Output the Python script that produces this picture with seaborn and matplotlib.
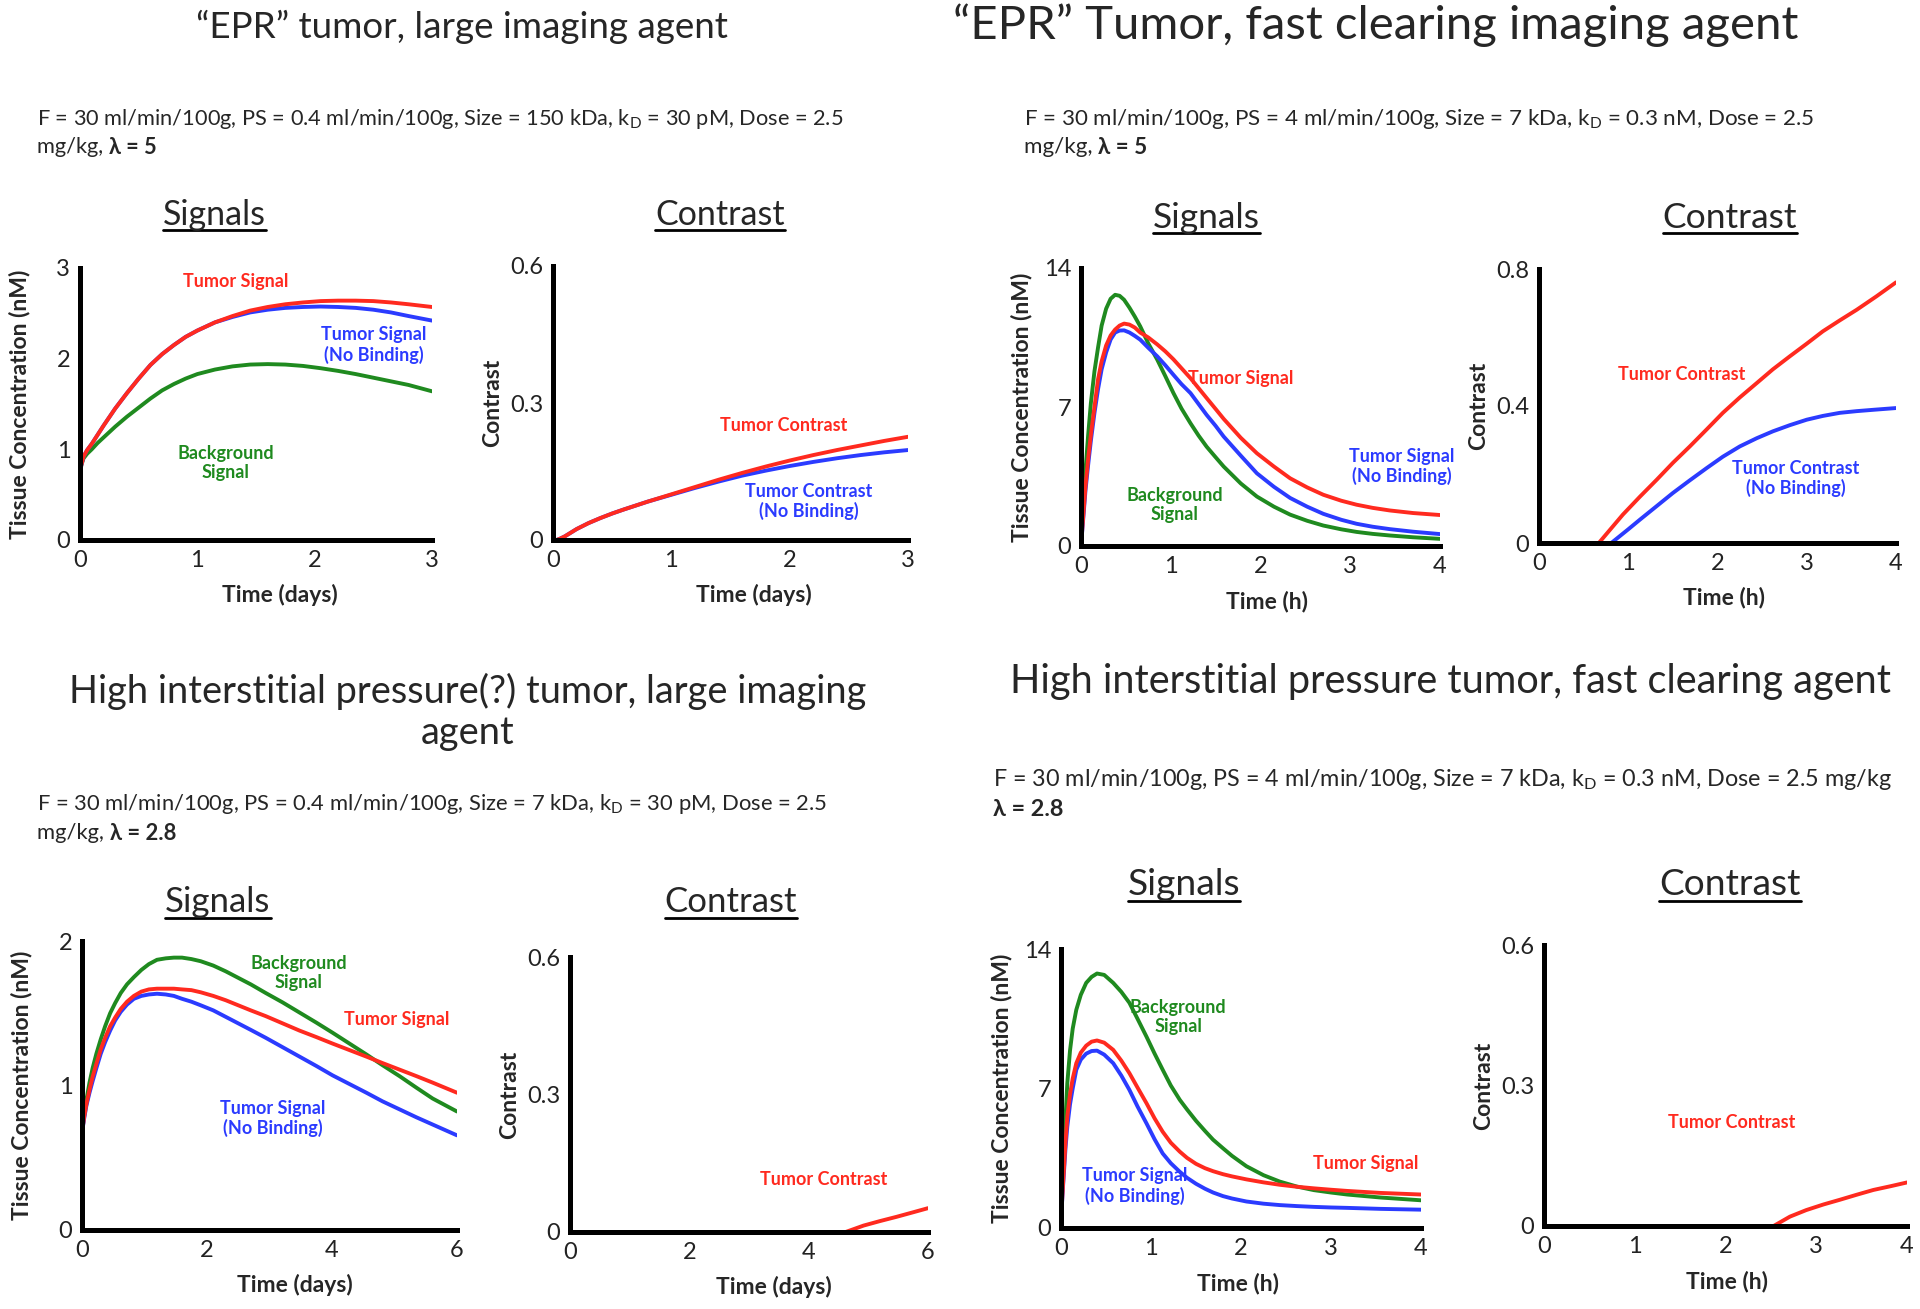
import numpy as np
import pandas as pd
import seaborn as sns
import matplotlib
matplotlib.use("Agg")
import matplotlib.pyplot as plt
from matplotlib.lines import Line2D

# 스타일 설정
sns.set_theme(style="white")
plt.rcParams["font.family"] = ["Lato", "DejaVu Sans"]

W, H = 1920, 1309
RED, BLUE, GREEN = "#ff2a1f", "#2b3bff", "#1f8a1f"
PALETTE = {"tumor": RED, "nobind": BLUE, "bg": GREEN}

# ---- 데이터 ----
# 1: EPR / large agent, signals (days)
s1_t = [0, 0.01, 0.03, 0.06, 0.1, 0.15, 0.2, 0.3, 0.4, 0.5, 0.6, 0.7, 0.8, 0.9, 1.0, 1.15, 1.3, 1.45,
        1.6, 1.75, 1.9, 2.05, 2.2, 2.35, 2.5, 2.65, 2.8, 3.0]
s1_tumor = [0.66, 0.82, 0.92, 0.99, 1.06, 1.16, 1.26, 1.45, 1.62, 1.78, 1.93, 2.05, 2.15, 2.24, 2.31, 2.40,
            2.47, 2.53, 2.57, 2.60, 2.62, 2.635, 2.64, 2.64, 2.635, 2.62, 2.60, 2.57]
s1_nobind = [0.66, 0.82, 0.92, 0.99, 1.06, 1.16, 1.26, 1.45, 1.62, 1.78, 1.93, 2.05, 2.15, 2.24, 2.31, 2.40,
             2.46, 2.51, 2.54, 2.56, 2.57, 2.575, 2.57, 2.56, 2.54, 2.51, 2.47, 2.42]
s1_bg = [0.66, 0.82, 0.90, 0.95, 1.00, 1.07, 1.13, 1.25, 1.36, 1.46, 1.56, 1.65, 1.72, 1.78, 1.83, 1.88,
         1.915, 1.935, 1.94, 1.935, 1.92, 1.895, 1.865, 1.83, 1.79, 1.75, 1.71, 1.64]

# 2: EPR / large agent, contrast (days)
c2_t = [0.03, 0.06, 0.1, 0.15, 0.2, 0.3, 0.4, 0.5, 0.6, 0.8, 1.0, 1.2, 1.4, 1.6, 1.8, 2.0, 2.2, 2.4, 2.6, 2.8, 3.0]
c2_tumor = [0, 0.003, 0.008, 0.016, 0.024, 0.037, 0.048, 0.058, 0.067, 0.084, 0.100, 0.116, 0.132, 0.147,
            0.161, 0.174, 0.186, 0.197, 0.207, 0.217, 0.226]
c2_nobind = [0, 0.003, 0.008, 0.016, 0.024, 0.037, 0.048, 0.058, 0.067, 0.084, 0.099, 0.114, 0.128, 0.141,
             0.152, 0.162, 0.171, 0.179, 0.186, 0.192, 0.197]

# 3: EPR / fast clearing, signals (h)
s3_t = [0, 0.02, 0.05, 0.08, 0.11, 0.15, 0.19, 0.23, 0.28, 0.33, 0.38, 0.43, 0.48, 0.54, 0.6, 0.66, 0.75,
        0.85, 0.94, 1.03, 1.12, 1.22, 1.31, 1.4, 1.5, 1.59, 1.78, 1.96, 2.15, 2.33, 2.52, 2.7, 2.9, 3.07,
        3.25, 3.44, 3.7, 4.0]
s3_bg = [0, 1.6, 3.8, 5.6, 7.2, 8.8, 10.0, 11.1, 11.95, 12.45, 12.65, 12.6, 12.4, 12.0, 11.55, 11.06, 10.2,
         9.38, 8.55, 7.7, 6.92, 6.18, 5.56, 5.0, 4.47, 4.0, 3.15, 2.49, 1.98, 1.58, 1.27, 1.03, 0.84, 0.71,
         0.61, 0.53, 0.44, 0.36]
s3_tumor = [0, 1.2, 3.0, 4.4, 5.6, 7.0, 8.4, 9.3, 10.1, 10.6, 10.9, 11.1, 11.2, 11.15, 11.0, 10.75, 10.5,
            10.15, 9.8, 9.4, 8.95, 8.45, 7.95, 7.45, 6.9, 6.4, 5.45, 4.67, 4.0, 3.41, 2.95, 2.58, 2.28,
            2.08, 1.92, 1.79, 1.66, 1.56]
s3_nobind = [0, 1.1, 2.8, 4.1, 5.3, 6.7, 7.9, 8.9, 9.75, 10.4, 10.75, 10.85, 10.86, 10.75, 10.58, 10.39,
             9.98, 9.55, 9.1, 8.62, 8.15, 7.7, 7.15, 6.6, 6.05, 5.51, 4.55, 3.66, 2.98, 2.42, 1.98, 1.62,
             1.32, 1.12, 0.97, 0.85, 0.72, 0.60]

# 4: EPR / fast clearing, contrast (h)
c4_t_tumor = [0.67, 0.94, 1.13, 1.32, 1.5, 1.69, 1.88, 2.06, 2.25, 2.44, 2.62, 2.81, 3.0, 3.18, 3.37, 3.56, 3.78, 4.0]
c4_tumor = [0, 0.083, 0.135, 0.185, 0.234, 0.282, 0.332, 0.38, 0.425, 0.467, 0.507, 0.545, 0.582, 0.618,
            0.65, 0.681, 0.72, 0.761]
c4_t_nobind = [0.81, 1.0, 1.13, 1.32, 1.5, 1.69, 1.88, 2.06, 2.25, 2.44, 2.62, 2.81, 3.0, 3.18, 3.37, 3.56, 3.75, 4.0]
c4_nobind = [0, 0.04, 0.068, 0.108, 0.146, 0.183, 0.219, 0.252, 0.282, 0.306, 0.326, 0.344, 0.36, 0.371,
             0.38, 0.385, 0.389, 0.394]

# 5: high pressure / large agent, signals (days)
s5_t = [0, 0.03, 0.07, 0.12, 0.17, 0.23, 0.3, 0.37, 0.45, 0.53, 0.62, 0.72, 0.83, 0.95, 1.07, 1.2, 1.34,
        1.47, 1.6, 1.75, 1.9, 2.1, 2.3, 2.5, 2.7, 2.94, 3.21, 3.48, 3.75, 4.01, 4.28, 4.55, 4.81, 5.08,
        5.35, 5.61, 6.0]
s5_bg = [0.67, 0.78, 0.90, 1.02, 1.12, 1.22, 1.32, 1.41, 1.50, 1.57, 1.64, 1.70, 1.75, 1.80, 1.84, 1.87,
         1.88, 1.885, 1.885, 1.875, 1.86, 1.83, 1.79, 1.745, 1.70, 1.64, 1.575, 1.505, 1.435, 1.365, 1.29,
         1.215, 1.14, 1.065, 0.985, 0.91, 0.82]
s5_tumor = [0.67, 0.77, 0.87, 0.97, 1.06, 1.15, 1.25, 1.33, 1.41, 1.47, 1.53, 1.58, 1.62, 1.65, 1.665,
            1.67, 1.67, 1.67, 1.665, 1.66, 1.645, 1.62, 1.59, 1.555, 1.52, 1.48, 1.43, 1.38, 1.335, 1.29,
            1.245, 1.20, 1.155, 1.11, 1.065, 1.02, 0.95]
s5_nobind = [0.67, 0.76, 0.86, 0.95, 1.03, 1.12, 1.22, 1.30, 1.38, 1.45, 1.51, 1.56, 1.60, 1.62, 1.63,
             1.635, 1.63, 1.62, 1.60, 1.58, 1.555, 1.52, 1.475, 1.43, 1.385, 1.33, 1.265, 1.20, 1.135,
             1.07, 1.01, 0.95, 0.89, 0.835, 0.78, 0.73, 0.655]

# 6: high pressure / large agent, contrast (days)
c6_t = [4.62, 4.92, 5.2, 5.47, 5.75, 6.0]
c6_tumor = [0.0, 0.014, 0.024, 0.033, 0.043, 0.052]

# 7: high pressure / fast clearing, signals (h)
s7_t = [0, 0.02, 0.05, 0.07, 0.1, 0.13, 0.17, 0.22, 0.28, 0.34, 0.4, 0.48, 0.58, 0.67, 0.76, 0.85, 0.95,
        1.04, 1.13, 1.22, 1.32, 1.4, 1.5, 1.6, 1.69, 1.8, 1.9, 2.06, 2.25, 2.43, 2.62, 2.81, 3.0, 3.18,
        3.55, 4.0]
s7_bg = [0.4, 2.5, 5.5, 7.26, 8.9, 10.0, 10.95, 11.7, 12.3, 12.6, 12.77, 12.7, 12.3, 11.85, 11.3, 10.5,
         9.6, 8.75, 7.94, 7.15, 6.43, 5.95, 5.38, 4.87, 4.43, 4.0, 3.62, 3.1, 2.65, 2.33, 2.08, 1.90, 1.78,
         1.68, 1.53, 1.39]
s7_tumor = [0.4, 2.0, 4.3, 5.59, 6.7, 7.5, 8.27, 8.8, 9.15, 9.35, 9.41, 9.3, 8.94, 8.4, 7.77, 7.05, 6.26,
            5.5, 4.83, 4.28, 3.83, 3.52, 3.22, 3.0, 2.85, 2.70, 2.59, 2.44, 2.29, 2.17, 2.07, 1.99, 1.92,
            1.86, 1.76, 1.68]
s7_nobind = [0.4, 1.9, 4.0, 5.08, 6.2, 7.0, 7.94, 8.45, 8.75, 8.88, 8.9, 8.7, 8.27, 7.65, 6.93, 6.1, 5.25,
             4.45, 3.74, 3.25, 2.82, 2.52, 2.22, 1.97, 1.78, 1.60, 1.48, 1.33, 1.22, 1.15, 1.10, 1.06,
             1.03, 1.01, 0.96, 0.92]

# 8: high pressure / fast clearing, contrast (h)
c8_t = [2.53, 2.71, 2.89, 3.08, 3.26, 3.45, 3.63, 3.82, 4.0]
c8_tumor = [0, 0.02, 0.034, 0.046, 0.056, 0.067, 0.077, 0.085, 0.093]


def long_df(*series):
    rows = []
    for name, t, v in series:
        rows += [{"t": a, "v": b, "s": name} for a, b in zip(t, v)]
    return pd.DataFrame(rows)


fig = plt.figure(figsize=(W / 100, H / 100), dpi=100)


def px(x, y):
    return x / W, 1 - y / H


def draw_panel(rect, df, xmax, ymax, xticks, xlabels, yticks, ylabels, xlab, ylab, xlab_cx, notes):
    l, t, r, b = rect
    ax = fig.add_axes([l / W, 1 - b / H, (r - l) / W, (b - t) / H])
    sns.lineplot(data=df, x="t", y="v", hue="s", palette=PALETTE, estimator=None, sort=False,
                 lw=2.8, legend=False, ax=ax)
    ax.set_xlim(0, xmax)
    ax.set_ylim(0, ymax)
    ax.set_xticks(xticks, xlabels)
    ax.set_yticks(yticks, ylabels)
    ax.tick_params(length=0, labelsize=17, pad=7, colors="#222222")
    for side in ["top", "right"]:
        ax.spines[side].set_visible(False)
    for side in ["left", "bottom"]:
        ax.spines[side].set_linewidth(3.6)
        ax.spines[side].set_color("black")
    ax.set_xlabel("")
    ax.set_ylabel("")
    ax.set_facecolor("none")
    fig.text(*px(xlab_cx, b + 55), xlab, ha="center", va="center", fontsize=16.5, weight="bold")
    fig.text(*px(l - 60, (t + b) / 2), ylab, rotation=90, ha="center", va="center",
             fontsize=16.5, weight="bold")
    for txt, x, y, c in notes:
        ax.text(x, y, txt, color=c, ha="center", va="center", fontsize=13, weight="bold",
                linespacing=1.15)
    return ax


SIG = "Tissue Concentration (nM)"
NB = "Tumor Signal\n(No Binding)"
CNB = "Tumor Contrast\n(No Binding)"
BG = "Background\nSignal"

draw_panel((80, 268, 432, 540),
           long_df(("bg", s1_t, s1_bg), ("nobind", s1_t, s1_nobind), ("tumor", s1_t, s1_tumor)),
           3, 3, [0, 1, 2, 3], ["0", "1", "2", "3"], [0, 1, 2, 3], ["0", "1", "2", "3"],
           "Time (days)", SIG, 280,
           [("Tumor Signal", 1.33, 2.85, RED), (NB, 2.5, 2.15, BLUE), (BG, 1.24, 0.85, GREEN)])

draw_panel((553, 266, 908, 540),
           long_df(("nobind", c2_t, c2_nobind), ("tumor", c2_t, c2_tumor)),
           3, 0.6, [0, 1, 2, 3], ["0", "1", "2", "3"], [0, 0.3, 0.6], ["0", "0.3", "0.6"],
           "Time (days)", "Contrast", 754,
           [("Tumor Contrast", 1.95, 0.25, RED), (CNB, 2.16, 0.084, BLUE)])

draw_panel((1081, 268, 1440, 546),
           long_df(("bg", s3_t, s3_bg), ("nobind", s3_t, s3_nobind), ("tumor", s3_t, s3_tumor)),
           4, 14, [0, 1, 2, 3, 4], ["0", "1", "2", "3", "4"], [0, 7, 14], ["0", "7", "14"],
           "Time (h)", SIG, 1267,
           [("Tumor Signal", 1.78, 8.44, RED), (NB, 3.57, 4.0, BLUE), (BG, 1.04, 2.07, GREEN)])

draw_panel((1539, 269, 1896, 543),
           long_df(("nobind", c4_t_nobind, c4_nobind), ("tumor", c4_t_tumor, c4_tumor)),
           4, 0.8, [0, 1, 2, 3, 4], ["0", "1", "2", "3", "4"], [0, 0.4, 0.8], ["0", "0.4", "0.8"],
           "Time (h)", "Contrast", 1724,
           [("Tumor Contrast", 1.60, 0.493, RED), (CNB, 2.88, 0.188, BLUE)])

draw_panel((82, 941, 457, 1230),
           long_df(("bg", s5_t, s5_bg), ("nobind", s5_t, s5_nobind), ("tumor", s5_t, s5_tumor)),
           6, 2, [0, 2, 4, 6], ["0", "2", "4", "6"], [0, 1, 2], ["0", "1", "2"],
           "Time (days)", SIG, 295,
           [(BG, 3.47, 1.78, GREEN), ("Tumor Signal", 5.03, 1.46, RED), (NB, 3.05, 0.77, BLUE)])

draw_panel((570, 957, 928, 1232),
           long_df(("tumor", c6_t, c6_tumor)),
           6, 0.6, [0, 2, 4, 6], ["0", "2", "4", "6"], [0, 0.3, 0.6], ["0", "0.3", "0.6"],
           "Time (days)", "Contrast", 774,
           [("Tumor Contrast", 4.25, 0.115, RED)])

draw_panel((1061, 949, 1421, 1228),
           long_df(("bg", s7_t, s7_bg), ("nobind", s7_t, s7_nobind), ("tumor", s7_t, s7_tumor)),
           4, 14, [0, 1, 2, 3, 4], ["0", "1", "2", "3", "4"], [0, 7, 14], ["0", "7", "14"],
           "Time (h)", SIG, 1238,
           [(BG, 1.30, 10.6, GREEN), ("Tumor Signal", 3.38, 3.24, RED), (NB, 0.82, 2.1, BLUE)])

draw_panel((1544, 945, 1907, 1226),
           long_df(("tumor", c8_t, c8_tumor)),
           4, 0.6, [0, 1, 2, 3, 4], ["0", "1", "2", "3", "4"], [0, 0.3, 0.6], ["0", "0.3", "0.6"],
           "Time (h)", "Contrast", 1727,
           [("Tumor Contrast", 2.07, 0.221, RED)])

# 큰 제목
fig.text(*px(462, 27), "“EPR” tumor, large imaging agent", ha="center", va="center", fontsize=26.5)
fig.text(*px(1376, 25), "“EPR” Tumor, fast clearing imaging agent", ha="center", va="center", fontsize=34)
fig.text(*px(468, 712), "High interstitial pressure(?) tumor, large imaging\nagent", ha="center", va="center",
         fontsize=27.4, linespacing=1.2)
fig.text(*px(1451, 682), "High interstitial pressure tumor, fast clearing agent", ha="center", va="center",
         fontsize=28.6)

# 파라미터 설명
kd = "k$_\\mathregular{D}$"
params = [
    (37, 119, 147, 15.7, f"F = 30 ml/min/100g, PS = 0.4 ml/min/100g, Size = 150 kDa, {kd} = 30 pM, Dose = 2.5",
     "mg/kg, ", "λ = 5"),
    (1024, 119, 147, 16.1, f"F = 30 ml/min/100g, PS = 4 ml/min/100g, Size = 7 kDa, {kd} = 0.3 nM, Dose = 2.5",
     "mg/kg, ", "λ = 5"),
    (37, 804, 833, 15.8, f"F = 30 ml/min/100g, PS = 0.4 ml/min/100g, Size = 7 kDa, {kd} = 30 pM, Dose = 2.5",
     "mg/kg, ", "λ = 2.8"),
    (993, 780, 810, 16.8, f"F = 30 ml/min/100g, PS = 4 ml/min/100g, Size = 7 kDa, {kd} = 0.3 nM, Dose = 2.5 mg/kg",
     "", "λ = 2.8"),
]
line2 = []
for x, y1, y2, fs, l1, l2a, l2b in params:
    fig.text(*px(x, y1), l1, ha="left", va="center", fontsize=fs)
    t = fig.text(*px(x, y2), l2a, ha="left", va="center", fontsize=fs)
    line2.append((t, x, y2, fs, l2b))

# 소제목 (밑줄)
subs = [(214, 225, 230, 24.5, "Signals"), (720, 225, 230, 24.5, "Contrast"),
        (1206, 228, 233, 25.5, "Signals"), (1730, 228, 233, 25.5, "Contrast"),
        (218, 912, 918, 25, "Signals"), (731, 912, 918, 25, "Contrast"),
        (1184, 895, 901, 26.7, "Signals"), (1730, 895, 901, 26.7, "Contrast")]
sub_texts = []
for cx, base, ul, fs, s in subs:
    st = fig.text(*px(cx, base), s, ha="center", va="baseline", fontsize=fs)
    sub_texts.append((st, ul))

fig.canvas.draw()
r = fig.canvas.get_renderer()
for t, x, y2, fs, bold in line2:
    bb = t.get_window_extent(r)
    x0 = bb.x1 if t.get_text() else x
    fig.text(x0 / W, 1 - y2 / H, bold, ha="left", va="center", fontsize=fs, weight="bold")
for st, ul in sub_texts:
    bb = st.get_window_extent(r)
    fig.add_artist(Line2D([bb.x0 / W, bb.x1 / W], [1 - ul / H] * 2, transform=fig.transFigure,
                          color="black", lw=2))

plt.savefig("out.png", dpi=100, facecolor="white")
